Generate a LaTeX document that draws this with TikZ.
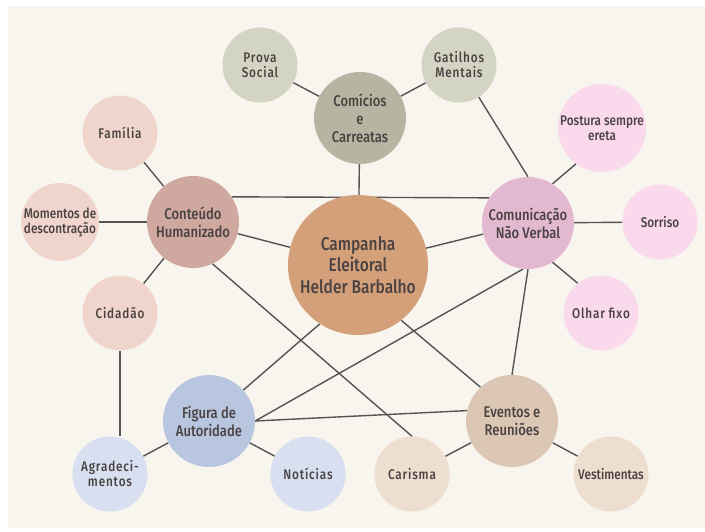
\documentclass[tikz,border=0pt]{standalone}
\usepackage{fontspec}
\setmainfont{Fira Sans Medium}[FakeStretch=0.84]
\newfontfamily\widefont{Fira Sans Medium}[FakeStretch=0.84,LetterSpace=6]
\definecolor{bgc}{HTML}{F8F4EE}
\definecolor{lnc}{HTML}{555353}
\definecolor{txt}{HTML}{4A4242}
\definecolor{cCentral}{HTML}{D4A07A}
\definecolor{cComicios}{HTML}{B6B5A1}
\definecolor{cGreenL}{HTML}{D3D4C3}
\definecolor{cConteudo}{HTML}{CFA89F}
\definecolor{cRoseL}{HTML}{EFD5CC}
\definecolor{cComunic}{HTML}{E3B9D2}
\definecolor{cPinkL}{HTML}{FAD9EC}
\definecolor{cFigura}{HTML}{B9C6DF}
\definecolor{cBlueL}{HTML}{D8DFF0}
\definecolor{cEventos}{HTML}{DCC7B4}
\definecolor{cBeigeL}{HTML}{EDDED0}
\pgfdeclarelayer{bg}
\pgfdeclarelayer{edges}
\pgfsetlayers{bg,edges,main}
\begin{document}
\begin{tikzpicture}[x=1pt,y=-1pt,
  bub/.style={circle,inner sep=0pt,align=center,text=txt,font=\fontsize{14}{15}\selectfont},
  sm/.style={bub,minimum size=75pt},
  smw/.style={sm,font=\widefont\fontsize{14}{15}\selectfont},
  md/.style={bub,minimum size=92pt,font=\fontsize{15.5}{18}\selectfont},
  lg/.style={bub,minimum size=140pt,font=\fontsize{18.5}{21.5}\selectfont},
  ln/.style={draw=lnc,line width=1.4pt}]
\useasboundingbox (0,0) rectangle (705,531);
\begin{pgfonlayer}{bg}
\fill[white] (0,0) rectangle (705,531);
\fill[bgc] (8,6) rectangle (705,528);
\end{pgfonlayer}

% nodes
\node[lg,fill=cCentral] (cen) at (358,265) {Campanha\\Eleitoral\\Helder Barbalho};
\node[md,fill=cComicios] (comi) at (360,118) {Comícios\\e\\Carreatas};
\node[smw,fill=cGreenL] (prova) at (260,65) {Prova\\Social};
\node[smw,fill=cGreenL] (gat) at (459,65) {Gatilhos\\Mentais};
\node[md,fill=cConteudo] (cont) at (193,222) {Conteúdo\\Humanizado};
\node[smw,fill=cRoseL] (fam) at (120,133) {Família};
\node[sm,fill=cRoseL] (mom) at (60,222) {Momentos de\\descontração};
\node[smw,fill=cRoseL] (cid) at (120,313) {Cidadão};
\node[md,fill=cComunic] (com) at (528,223) {Comunicação\\Não Verbal};
\node[bub,minimum size=88pt,fill=cPinkL] (post) at (602,128) {Postura sempre\\ereta};
\node[sm,fill=cPinkL] (sor) at (660,222) {Sorriso};
\node[smw,fill=cPinkL] (olh) at (601,313) {Olhar fixo};
\node[md,fill=cFigura] (fig) at (209,421) {Figura de\\Autoridade};
\node[smw,fill=cBlueL] (agr) at (110,474) {Agradeci-\\mentos};
\node[smw,fill=cBlueL] (not) at (308,474) {Notícias};
\node[md,fill=cEventos] (ev) at (512,421) {Eventos e\\Reuniões};
\node[smw,fill=cBeigeL] (car) at (412,474) {Carisma};
\node[sm,fill=cBeigeL] (ves) at (611,474) {Vestimentas};

% connectors
\begin{pgfonlayer}{edges}
\draw[ln] (prova) -- (comi);
\draw[ln] (gat) -- (comi);
\draw[ln] (comi) -- (cen);
\draw[ln] (gat) -- (com.north);
\draw[ln] (cont.33) -- (com.147);
\draw[ln] (fam) -- (cont);
\draw[ln] (mom) -- (cont);
\draw[ln] (cid) -- (cont);
\draw[ln] (cont) -- (cen);
\draw[ln] (cont.-65) -- (car.north);
\draw[ln] (com) -- (cen);
\draw[ln] (com.58) -- (post.234);
\draw[ln] (com) -- (sor);
\draw[ln] (com.-58) -- (olh.128);
\draw[ln] (com.264) -- (fig.east);
\draw[ln] (com.south) -- (ev.north);
\draw[ln] (cen.237) -- (fig.42);
\draw[ln] (cen.308) -- (ev.133);
\draw[ln] (cid.south) -- (cid.south |- agr.north);
\draw[ln] (fig) -- (agr);
\draw[ln] (fig) -- (not);
\draw[ln] (fig.east) -- (ev.167);
\draw[ln] (ev) -- (car);
\draw[ln] (ev) -- (ves);
\end{pgfonlayer}
\end{tikzpicture}
\end{document}
